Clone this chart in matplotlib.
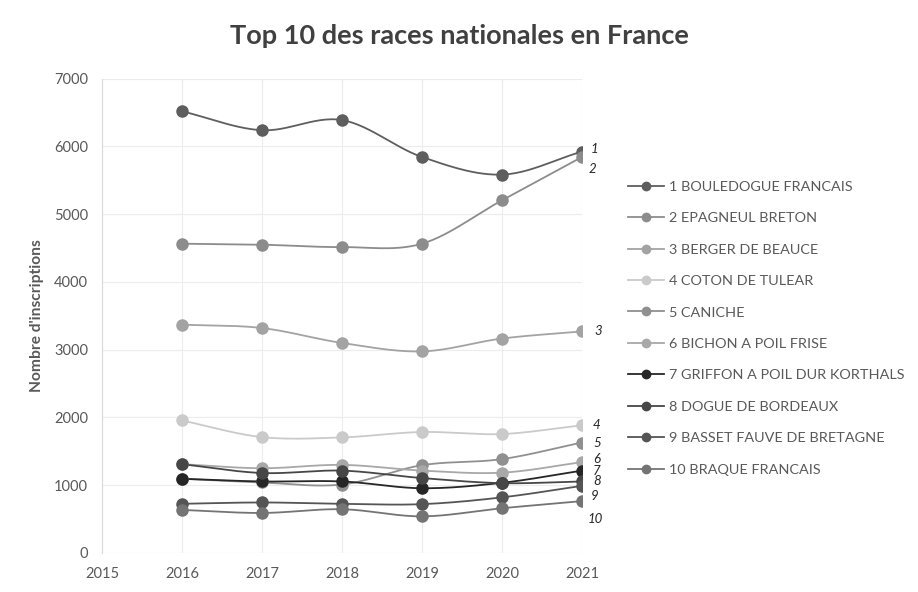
import numpy as np
import matplotlib
matplotlib.use("Agg")
import matplotlib.pyplot as plt

plt.rcParams['font.family'] = ['Lato', 'DejaVu Sans']

years = [2016, 2017, 2018, 2019, 2020, 2021]
races = ["1 BOULEDOGUE FRANCAIS", "2 EPAGNEUL BRETON", "3 BERGER DE BEAUCE",
         "4 COTON DE TULEAR", "5 CANICHE", "6 BICHON A POIL FRISE",
         "7 GRIFFON A POIL DUR KORTHALS", "8 DOGUE DE BORDEAUX",
         "9 BASSET FAUVE DE BRETAGNE", "10 BRAQUE FRANCAIS"]

bouledogue = [6520, 6240, 6390, 5845, 5585, 5925]
epagneul = [4565, 4550, 4515, 4565, 5205, 5845]
berger = [3370, 3320, 3100, 2975, 3165, 3270]
coton = [1955, 1710, 1705, 1785, 1755, 1885]
caniche = [1095, 1040, 1010, 1295, 1385, 1630]
bichon = [1310, 1250, 1300, 1215, 1185, 1340]
griffon = [1095, 1055, 1055, 955, 1035, 1215]
dogue = [1310, 1180, 1215, 1105, 1030, 1055]
basset = [725, 745, 725, 720, 820, 990]
braque = [635, 590, 645, 540, 660, 765]

series = [bouledogue, epagneul, berger, coton, caniche,
          bichon, griffon, dogue, basset, braque]
colors = ["#5e5e5e", "#8c8c8c", "#a3a3a3", "#cacaca", "#909090",
          "#a8a8a8", "#262626", "#474747", "#555555", "#747474"]
# label offsets (points) for the numbers next to the 2021 values
offsets = [(6, 2), (5, -9), (9, 0), (8, 0), (8, 0),
           (8, 2), (8, 0), (8, 0), (6, -7), (4, -13)]


def smooth(x, y, n=30):
    # catmull-rom curve through the points, like excel's smoothed lines
    x = np.asarray(x, float)
    y = np.asarray(y, float)
    px = np.concatenate([[2*x[0]-x[1]], x, [2*x[-1]-x[-2]]])
    py = np.concatenate([[2*y[0]-y[1]], y, [2*y[-1]-y[-2]]])
    xs, ys = [], []
    t = np.linspace(0, 1, n)
    for i in range(1, len(px)-2):
        for p, out in ((px, xs), (py, ys)):
            p0, p1, p2, p3 = p[i-1], p[i], p[i+1], p[i+2]
            out.extend(0.5*((2*p1) + (-p0+p2)*t + (2*p0-5*p1+4*p2-p3)*t**2
                            + (-p0+3*p1-3*p2+p3)*t**3))
    return xs, ys


fig = plt.figure(figsize=(9.18, 5.92), dpi=100)
ax = fig.add_axes([0.111, 0.066, 0.523, 0.801])

for i, vals in enumerate(series):
    sx, sy = smooth(years, vals)
    ax.plot(sx, sy, color=colors[i], lw=1.3, zorder=2+i*0.1)
    ax.plot(years, vals, 'o', color=colors[i], ms=8, zorder=3+i*0.1,
            label=races[i])
    ax.annotate(str(i+1), (years[-1], vals[-1]), xytext=offsets[i],
                textcoords='offset points', ha='left', va='center',
                fontsize=9.5, style='italic', color='#262626')

ax.set_xlim(2015, 2021)
ax.set_ylim(0, 7000)
ax.set_xticks(range(2015, 2022))
ax.set_yticks(range(0, 7001, 1000))
ax.grid(True, color='#ececec', lw=0.8)
ax.set_axisbelow(True)
for s in ['top', 'right', 'bottom']:
    ax.spines[s].set_visible(False)
ax.spines['left'].set_color('#d9d9d9')
ax.tick_params(length=0, labelsize=10.5, colors='#595959', pad=10)
ax.tick_params(axis='x', pad=10)
ax.set_ylabel("Nombre d'inscriptions", fontsize=11.2, fontweight='bold',
              color='#595959', labelpad=7)

fig.suptitle("Top 10 des races nationales en France", x=0.5, y=0.96,
             fontsize=19.5, fontweight='bold', color='#404040')

# legend with line + dot handles
handles = []
for i in range(len(series)):
    h, = ax.plot([], [], '-o', color=colors[i], ms=6, lw=1.3)
    handles.append(h)
leg = fig.legend(handles, races, loc='upper left', bbox_to_anchor=(0.67, 0.717),
                 frameon=False, fontsize=10.4, labelcolor='#595959',
                 handlelength=2.5, labelspacing=1.34, handletextpad=0.35)

fig.savefig("out.png", dpi=100)
